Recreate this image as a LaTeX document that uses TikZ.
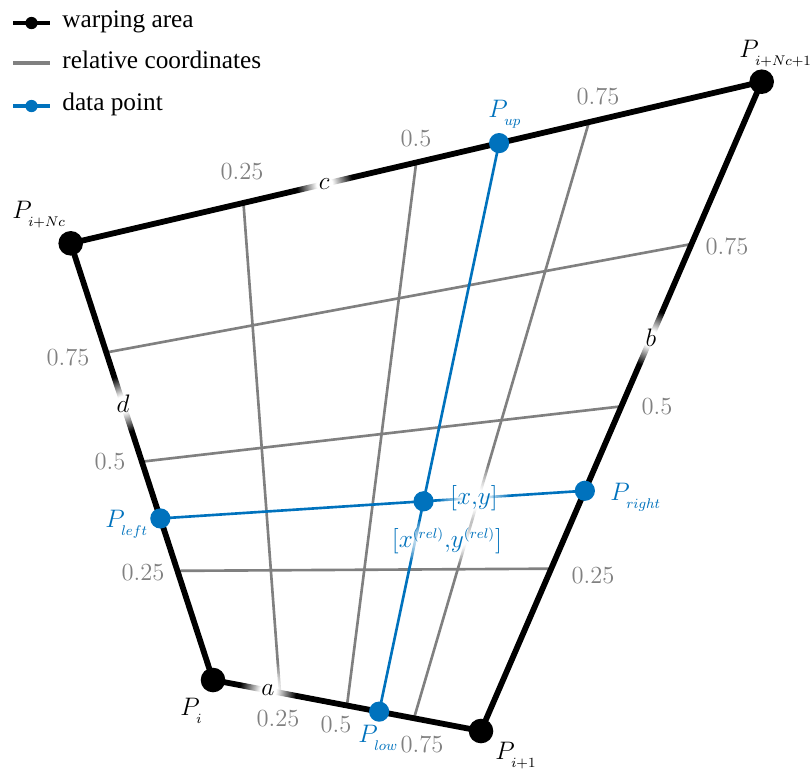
\documentclass[tikz,border=0pt]{standalone}
\usepackage{fontspec}
\newfontfamily\legendfont{Liberation Serif}
\usetikzlibrary{calc, fadings, backgrounds}

\definecolor{dataBlue}{RGB}{0,114,189}
\definecolor{gridGray}{RGB}{128,128,128}

% soft white patch behind labels that sit on lines
\pgfdeclareradialshading{haloshade}{\pgfpointorigin}{color(0bp)=(white); color(7bp)=(white); color(25bp)=(black); color(50bp)=(black)}
\pgfdeclarefading{halofade}{\pgfuseshading{haloshade}}

\newcommand\smallmath[1]{\hbox{\fontsize{8.2}{9}\selectfont\medmuskip=0mu$#1$}}
\newcommand\pnt[1]{P_{\raisebox{-2.8pt}{\smallmath{#1}}}}

\begin{document}
\begin{tikzpicture}[
  x=0.02cm, y=-0.02cm,
  font=\fontsize{14}{17}\selectfont,
  corner/.style={circle, fill=black, inner sep=0pt, minimum size=14pt},
  datadot/.style={circle, fill=dataBlue, inner sep=0pt, minimum size=11.5pt},
  warp/.style={line width=3.3pt, draw=black},
  relline/.style={line width=1.5pt, draw=gridGray},
  dataline/.style={line width=1.5pt, draw=dataBlue},
  ticklbl/.style={text=gridGray, inner sep=0pt},
  plbl/.style={anchor=base west, inner sep=0pt},
  halo/.style={fill=white, path fading=halofade},
  edgelbl/.style={halo, circle, inner sep=0pt, minimum size=32pt},
  legline/.style={line width=1.9pt},
  legdot/.style={circle, inner sep=0pt, minimum size=7pt},
  legtxt/.style={anchor=base west, inner sep=0pt, font=\legendfont\fontsize{14.4}{17}\selectfont}
]
  \useasboundingbox (0,0) rectangle (812,769);

  % corners of the warping area
  \node[corner] (Pi)   at (213,680)    {};
  \node[corner] (Pi1)  at (481,731)    {};
  \node[corner] (PNc1) at (761.7,81.7) {};
  \node[corner] (PNc)  at (70.7,243.3) {};

  % relative coordinates
  \foreach \f/\n in {0.25/1, 0.5/2, 0.75/3} {
    \coordinate (bot\n)   at ($(Pi)!\f!(Pi1)$);
    \coordinate (top\n)   at ($(PNc)!\f!(PNc1)$);
    \coordinate (left\n)  at ($(Pi)!\f!(PNc)$);
    \coordinate (right\n) at ($(Pi1)!\f!(PNc1)$);
  }

  % data point
  \node[datadot] (Plow)   at ($(Pi)!0.62!(Pi1)$)   {};
  \node[datadot] (Pup)    at ($(PNc)!0.62!(PNc1)$) {};
  \node[datadot] (Pleft)  at ($(Pi)!0.37!(PNc)$)   {};
  \node[datadot] (Pright) at ($(Pi1)!0.37!(PNc1)$) {};
  \node[datadot] (Pxy) at (intersection of Plow.center--Pup.center and Pleft.center--Pright.center) {};

  \begin{scope}[on background layer]
    \foreach \n in {1,2,3} {
      \draw[relline] (bot\n) -- (top\n);
      \draw[relline] (left\n) -- (right\n);
    }
    \draw[warp] (Pi.center) -- (Pi1.center) -- (PNc1.center) -- (PNc.center) -- cycle;
    \draw[dataline] (Plow.center) -- (Pup.center);
    \draw[dataline] (Pleft.center) -- (Pright.center);
  \end{scope}

  % edge names
  \node[edgelbl] (ea) at ($(Pi)!0.205!(Pi1)$)   {$a$};
  \node[edgelbl] (eb) at ($(Pi1)!0.605!(PNc1)$) {$b$};
  \node[edgelbl] (ec) at ($(PNc)!0.367!(PNc1)$) {$c$};
  \node[edgelbl] (ed) at ($(Pi)!0.632!(PNc)$)   {$d$};

  % tick values
  \node[ticklbl] (t1) at (242,172) {0.25};
  \node[ticklbl] (t2) at (416,139) {0.5};
  \node[ticklbl] (t3) at (598,96)  {0.75};
  \node[ticklbl] (l3) at (68,357)  {0.75};
  \node[ticklbl] (l2) at (110,462) {0.5};
  \node[ticklbl] (l1) at (143,573) {0.25};
  \node[ticklbl] (r3) at (727,246) {0.75};
  \node[ticklbl] (r2) at (657,407) {0.5};
  \node[ticklbl] (r1) at (593,576) {0.25};
  \node[ticklbl] (b1) at (278,719) {0.25};
  \node[ticklbl] (b2) at (336,725) {0.5};
  \node[ticklbl] (b3) at (422,744) {0.75};

  % point names
  \node[plbl] (lPi)   at (180,715) {$\pnt{i}$};
  \node[plbl] (lPi1)  at (495,759) {$\pnt{i+1}$};
  \node[plbl] (lPNc1) at (739,57)  {$\pnt{i+Nc+1}$};
  \node[plbl] (lPNc)  at (12,218)  {$\pnt{i+Nc}$};
  \node[plbl, text=dataBlue] (lPup)    at (488,117) {$\pnt{up}$};
  \node[plbl, text=dataBlue] (lPlow)   at (358,742) {$\pnt{low}$};
  \node[plbl, text=dataBlue] (lPleft)  at (105,527) {$\pnt{left}$};
  \node[plbl, text=dataBlue] (lPright) at (610,500) {$\pnt{right}$};
  \node[halo, circle, inner sep=0pt, minimum size=40pt, text=dataBlue] (lxy) at (474,498) {$[x{,}y]$};
  \node[halo, inner sep=6pt, text=dataBlue] (lrel) at (447,541)
    {$[x^{\smallmath{(rel)}}{,}y^{\smallmath{(rel)}}]$};

  % legend
  \coordinate (lw1) at (13,23);  \coordinate (lw2) at (50,23);
  \coordinate (lg1) at (13,63);  \coordinate (lg2) at (50,63);
  \coordinate (lb1) at (13,106); \coordinate (lb2) at (50,106);
  \draw[legline, black] (lw1) -- (lw2);
  \node[legdot, fill=black] (lwdot) at ($(lw1)!0.5!(lw2)$) {};
  \draw[legline, gridGray] (lg1) -- (lg2);
  \draw[legline, dataBlue] (lb1) -- (lb2);
  \node[legdot, fill=dataBlue] (lbdot) at ($(lb1)!0.5!(lb2)$) {};
  \node[legtxt] (lwtxt) at (62,27)  {warping area};
  \node[legtxt] (lgtxt) at (62,68)  {relative coordinates};
  \node[legtxt] (lbtxt) at (62,110) {data point};
\end{tikzpicture}
\end{document}
